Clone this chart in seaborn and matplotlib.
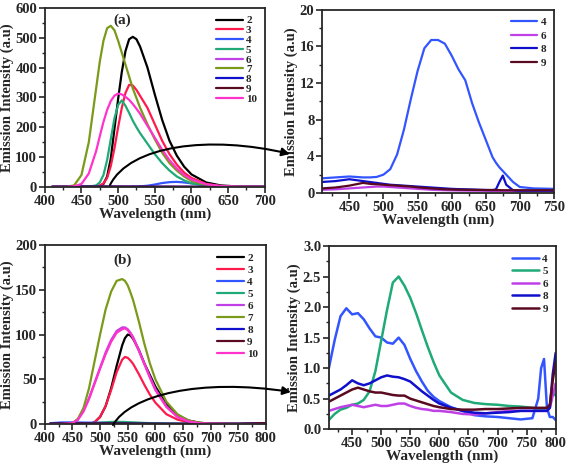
import matplotlib
matplotlib.use("Agg")
import matplotlib.pyplot as plt
from matplotlib.path import Path
from matplotlib.patches import FancyArrowPatch
from matplotlib.ticker import MultipleLocator, FormatStrFormatter
import seaborn as sns

# ---- panel (a): emission spectra, all samples
wl_a = [410, 430, 440, 450, 460, 470, 475, 480, 485, 490, 495, 500, 505, 510, 515,
        520, 525, 530, 540, 550, 560, 570, 580, 590, 600, 620, 640, 660, 700]
a2 = [0, 0, 0, 0, 0, 1, 3, 10, 35, 95, 195, 295, 385, 455, 495,
      503, 495, 470, 400, 310, 225, 155, 105, 68, 42, 15, 5, 2, 0]
a3 = [0, 0, 0, 0, 0, 2, 5, 12, 30, 70, 130, 200, 265, 315, 342,
      340, 325, 305, 265, 210, 155, 110, 75, 48, 30, 10, 3, 1, 0]
a4 = [0, 0, 0, 0, 0, 0, 0, 0, 0, 0, 0, 0, 0, 0, 0,
      1, 1, 2, 4, 8, 13, 16, 17, 15, 12, 6, 2, 1, 0]
a5 = [0, 0, 0, 0, 1, 5, 15, 40, 90, 160, 230, 275, 290, 272, 248,
      222, 200, 180, 145, 110, 80, 55, 35, 22, 12, 4, 1, 0, 0]
a6 = [0, 0, 0, 0.5, 0.5, 0.6, 0.6, 0.7, 0.7, 0.7, 0.7, 0.7, 0.7, 0.6, 0.6,
      0.6, 0.5, 0.5, 0.5, 0.4, 0.4, 0.3, 0.3, 0.3, 0.3, 0.2, 0.2, 0.2, 0.2]
a7 = [0, 1, 5, 40, 150, 330, 420, 490, 532, 540, 525, 490, 450, 410, 370,
      330, 298, 265, 210, 160, 115, 80, 55, 35, 20, 7, 2, 1, 0]
a8 = [1, 1, 1, 1.5, 1.3, 1.2, 1.2, 1.1, 1.1, 1.1, 1, 1, 0.9, 0.9, 0.9,
      0.8, 0.8, 0.8, 0.7, 0.7, 0.6, 0.6, 0.5, 0.5, 0.4, 0.4, 0.3, 0.3, 0.3]
a9 = [0.5, 0.6, 0.7, 0.8, 1, 1.1, 1, 1, 1, 0.9, 0.9, 0.9, 0.9, 0.8, 0.8,
      0.8, 0.7, 0.7, 0.7, 0.6, 0.5, 0.5, 0.4, 0.4, 0.4, 0.3, 0.3, 0.3, 0.3]
a10 = [0, 0, 2, 10, 45, 120, 170, 218, 258, 288, 306, 313, 310, 302, 292,
       278, 262, 245, 205, 165, 125, 90, 62, 40, 25, 9, 3, 1, 0]

# ---- panel (a) right: weak samples
wl_c = [410, 430, 450, 470, 480, 490, 500, 510, 520, 530, 540, 550, 560, 570, 580, 590,
        600, 610, 620, 630, 640, 650, 660, 665, 670, 675, 680, 690, 700, 720, 750]
c4 = [1.6, 1.7, 1.8, 1.7, 1.7, 1.75, 2.0, 2.6, 4.2, 6.9, 10.2, 13.3, 15.8, 16.7, 16.7, 16.3,
      15.0, 13.5, 12.3, 9.8, 7.7, 5.8, 3.9, 3.3, 2.8, 2.4, 2.0, 1.2, 0.65, 0.5, 0.45]
c6 = [0.35, 0.4, 0.5, 0.6, 0.65, 0.7, 0.7, 0.65, 0.6, 0.55, 0.5, 0.45, 0.4, 0.35, 0.32, 0.3,
      0.28, 0.27, 0.26, 0.25, 0.25, 0.24, 0.23, 0.23, 0.22, 0.22, 0.22, 0.21, 0.2, 0.2, 0.2]
c8 = [1.2, 1.3, 1.5, 1.3, 1.2, 1.1, 1.0, 0.9, 0.85, 0.8, 0.75, 0.7, 0.65, 0.6, 0.55, 0.5,
      0.45, 0.42, 0.4, 0.38, 0.35, 0.33, 0.32, 0.4, 1.2, 1.9, 0.9, 0.3, 0.25, 0.25, 0.25]
c9 = [0.5, 0.6, 0.8, 1.1, 1.0, 0.95, 0.9, 0.85, 0.8, 0.75, 0.7, 0.62, 0.55, 0.5, 0.45, 0.4,
      0.38, 0.36, 0.35, 0.34, 0.33, 0.32, 0.32, 0.31, 0.31, 0.3, 0.3, 0.3, 0.3, 0.3, 0.3]

# ---- panel (b): emission spectra, all samples
wl_b = [410, 430, 450, 460, 470, 480, 490, 500, 510, 520, 530, 540, 545, 550,
        555, 560, 570, 580, 590, 600, 620, 640, 660, 680, 700, 750, 800]
b2 = [0, 0, 0, 0, 0, 0, 2, 8, 20, 40, 65, 88, 96, 100,
      99, 95, 83, 68, 55, 42, 22, 10, 4, 1.5, 0.5, 0, 0]
b3 = [0, 0, 0, 0, 0, 0, 2, 8, 20, 38, 58, 72, 75, 74,
      71, 67, 56, 44, 33, 24, 11, 5, 2, 1, 0, 0, 0]
b4 = [1, 1.8, 1.9, 1.8, 1.7, 1.6, 1.5, 1.5, 1.4, 1.4, 1.4, 1.3, 1.2, 1.1,
      1, 1, 0.8, 0.6, 0.5, 0.5, 0.4, 0.3, 0.2, 0.2, 0.2, 0.2, 0.2]
b5 = [0.2, 0.3, 0.4, 0.4, 0.5, 0.6, 1, 1.5, 2, 2.4, 2.5, 2.4, 2.3, 2.1,
      2, 1.9, 1.6, 1.3, 1.1, 0.9, 0.6, 0.5, 0.4, 0.4, 0.4, 0.4, 0.5]
b6 = [0, 0, 1, 5, 15, 29, 46, 63, 80, 94, 104, 108, 108, 106,
      102, 97, 83, 68, 53, 39, 20, 8, 3, 1, 0.5, 0, 0]
b7 = [0, 0, 1, 6, 18, 40, 70, 100, 128, 148, 160, 162, 160, 155,
      147, 138, 115, 90, 68, 50, 25, 11, 4, 1.5, 0.5, 0, 0]
b8 = [0.6, 0.7, 0.8, 0.8, 0.7, 0.8, 0.8, 0.9, 0.9, 0.9, 0.9, 0.8, 0.8, 0.8,
      0.7, 0.7, 0.6, 0.6, 0.5, 0.4, 0.4, 0.3, 0.3, 0.3, 0.3, 0.3, 1.2]
b9 = [0.5, 0.6, 0.7, 0.7, 0.7, 0.6, 0.6, 0.6, 0.6, 0.6, 0.6, 0.6, 0.5, 0.5,
      0.5, 0.5, 0.4, 0.4, 0.4, 0.4, 0.3, 0.3, 0.3, 0.3, 0.3, 0.4, 1.1]
b10 = [0, 0, 1, 5, 14, 28, 45, 62, 78, 92, 102, 106, 107, 105,
       101, 96, 82, 67, 52, 38, 19, 8, 3, 1, 0.5, 0, 0]

# ---- panel (b) right: weak samples
wl_d = [410, 420, 430, 440, 450, 460, 470, 480, 490, 500, 510, 520, 530, 540, 550, 560, 570, 580,
        590, 600, 620, 640, 660, 680, 700, 720, 740, 760, 770, 775, 780, 785, 790, 795, 800]
d4 = [1.0, 1.46, 1.85, 1.98, 1.88, 1.9, 1.8, 1.65, 1.52, 1.5, 1.42, 1.4, 1.5, 1.38, 1.15, 0.95, 0.78, 0.63,
      0.53, 0.46, 0.36, 0.3, 0.23, 0.21, 0.2, 0.18, 0.16, 0.18, 0.5, 1.0, 1.15, 0.35, 0.2, 0.2, 0.15]
d5 = [0.15, 0.25, 0.32, 0.35, 0.4, 0.42, 0.48, 0.62, 0.95, 1.45, 1.95, 2.4, 2.5, 2.35, 2.15, 1.9, 1.62, 1.35,
      1.1, 0.88, 0.6, 0.48, 0.43, 0.41, 0.4, 0.38, 0.37, 0.35, 0.33, 0.32, 0.32, 0.33, 0.4, 0.6, 0.55]
d6 = [0.3, 0.33, 0.36, 0.38, 0.4, 0.38, 0.36, 0.38, 0.4, 0.38, 0.38, 0.4, 0.42, 0.42, 0.38, 0.35, 0.33, 0.32,
      0.3, 0.3, 0.28, 0.25, 0.24, 0.26, 0.28, 0.3, 0.3, 0.3, 0.3, 0.3, 0.3, 0.3, 0.35, 0.55, 0.75]
d8 = [0.55, 0.6, 0.65, 0.72, 0.8, 0.75, 0.72, 0.75, 0.8, 0.85, 0.88, 0.86, 0.85, 0.82, 0.78, 0.7, 0.62, 0.55,
      0.48, 0.42, 0.35, 0.3, 0.27, 0.26, 0.27, 0.28, 0.3, 0.3, 0.3, 0.3, 0.3, 0.3, 0.35, 0.9, 1.25]
d9 = [0.45, 0.5, 0.55, 0.6, 0.65, 0.68, 0.65, 0.62, 0.6, 0.6, 0.58, 0.56, 0.55, 0.55, 0.5, 0.47, 0.44, 0.41,
      0.38, 0.36, 0.33, 0.32, 0.32, 0.33, 0.33, 0.34, 0.35, 0.35, 0.35, 0.35, 0.35, 0.35, 0.4, 0.8, 1.1]

colors = {"2": "#000000", "3": "#ff1a4d", "4": "#3355ff", "5": "#1faa77", "6": "#c040e8",
          "7": "#7a9a1a", "8": "#1010cc", "9": "#5a0a20", "10": "#ff33cc"}

sns.set_style("ticks")
plt.rcParams["font.family"] = ["Liberation Serif", "DejaVu Serif"]
plt.rcParams["font.weight"] = "bold"
plt.rcParams["axes.labelweight"] = "bold"
plt.rcParams["axes.linewidth"] = 1.3

fig = plt.figure(figsize=(5.67, 4.65), dpi=100)
ax_a = fig.add_axes([0.079, 0.598, 0.388, 0.385])
ax_c = fig.add_axes([0.568, 0.585, 0.409, 0.394])
ax_b = fig.add_axes([0.079, 0.088, 0.390, 0.385])
ax_d = fig.add_axes([0.580, 0.077, 0.400, 0.394])


def draw(ax, wl, series, lw):
    for lab, vals in series:
        sns.lineplot(x=wl, y=vals, ax=ax, color=colors[lab], lw=lw, label=lab)


draw(ax_a, wl_a, [("2", a2), ("3", a3), ("4", a4), ("5", a5), ("6", a6),
                  ("7", a7), ("8", a8), ("9", a9), ("10", a10)], 1.6)
draw(ax_c, wl_c, [("4", c4), ("6", c6), ("8", c8), ("9", c9)], 1.6)
draw(ax_b, wl_b, [("2", b2), ("3", b3), ("4", b4), ("5", b5), ("6", b6),
                  ("7", b7), ("8", b8), ("9", b9), ("10", b10)], 1.6)
draw(ax_d, wl_d, [("4", d4), ("5", d5), ("6", d6), ("8", d8), ("9", d9)], 1.8)


def style(ax, xlim, ylim, xmaj, ymaj, legsp, yfmt=None):
    ax.set_xlim(*xlim)
    ax.set_ylim(*ylim)
    ax.xaxis.set_major_locator(MultipleLocator(xmaj))
    ax.xaxis.set_minor_locator(MultipleLocator(xmaj / 2))
    ax.yaxis.set_major_locator(MultipleLocator(ymaj))
    ax.yaxis.set_minor_locator(MultipleLocator(ymaj / 2))
    if yfmt:
        ax.yaxis.set_major_formatter(FormatStrFormatter(yfmt))
    ax.tick_params(which="major", direction="out", length=4, width=1.2, labelsize=10.5, pad=1.5)
    ax.tick_params(which="minor", direction="out", length=2, width=1)
    for lbl in ax.get_xticklabels() + ax.get_yticklabels():
        lbl.set_fontweight("bold")
    ax.set_xlabel("Wavelength (nm)", fontsize=11, labelpad=0)
    ax.set_ylabel("Emission Intensity (a.u)", fontsize=10.5, labelpad=1)
    leg = ax.legend(loc="upper right", frameon=False, fontsize=8, handlelength=2.4,
                    handletextpad=0.3, labelspacing=legsp, borderaxespad=0.3)
    for t in leg.get_texts():
        t.set_fontweight("bold")


style(ax_a, (400, 700), (0, 600), 50, 100, 0.0)
style(ax_c, (410, 750), (0, 20), 50, 4, 0.33)
ax_c.set_xticks([450, 500, 550, 600, 650, 700, 750])
style(ax_b, (400, 800), (0, 200), 50, 50, 0.2)
style(ax_d, (410, 800), (0, 3.0), 50, 0.5, 0.25, "%.1f")
ax_d.set_xticks([450, 500, 550, 600, 650, 700, 750, 800])

ax_a.text(505, 560, "(a)", fontsize=11, fontweight="bold", ha="center", va="center")
ax_b.text(540, 183, "(b)", fontsize=11, fontweight="bold", ha="center", va="center")


def px(x, y):
    return (x / 567, 1 - y / 465)


def curved_arrow(p0, c1, c2, p3):
    path = Path([px(*p0), px(*c1), px(*c2), px(*p3)],
                [Path.MOVETO, Path.CURVE4, Path.CURVE4, Path.CURVE4])
    arr = FancyArrowPatch(path=path, arrowstyle="-|>", mutation_scale=12, lw=1.5,
                          color="black", transform=fig.transFigure)
    fig.add_artist(arr)


curved_arrow((110, 185), (130, 145), (210, 135), (290, 154))
curved_arrow((113, 425), (130, 395), (200, 378), (291, 392))

fig.savefig("out.png", dpi=100)
